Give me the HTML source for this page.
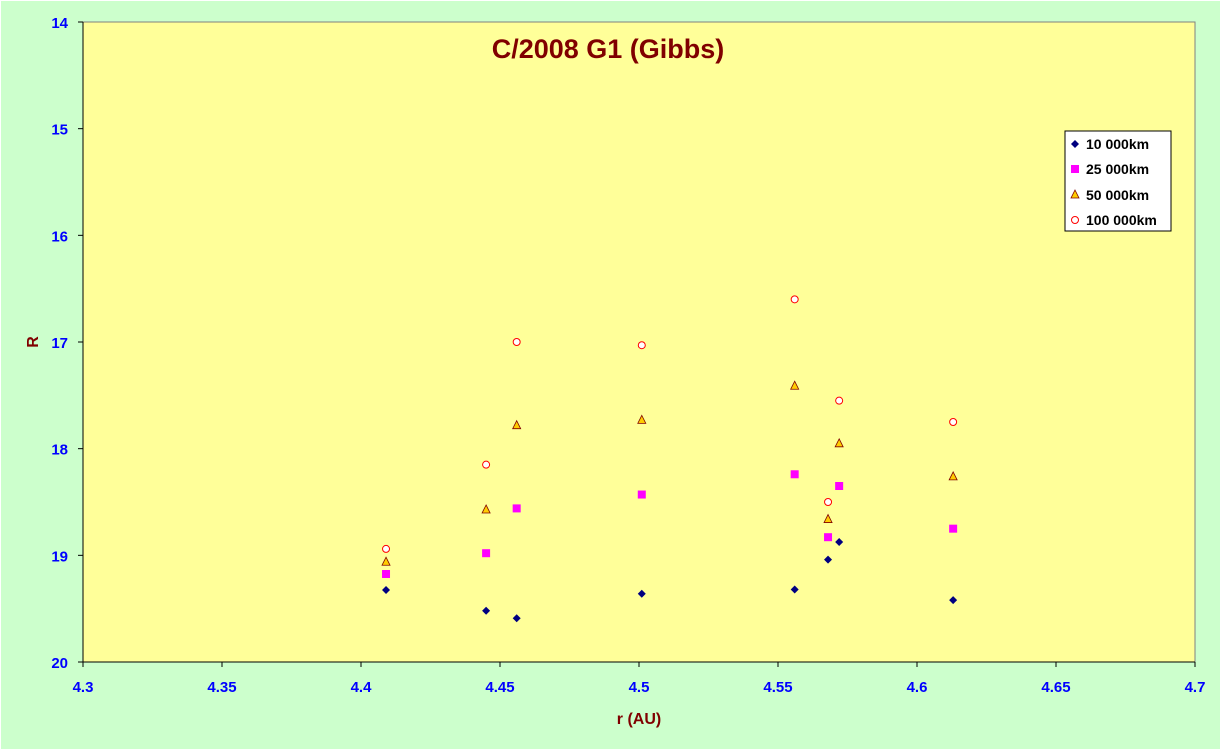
<!DOCTYPE html>
<html><head><meta charset="utf-8"><style>
body{margin:0;background:#ccffcc;}
svg{display:block;font-family:"Liberation Sans",sans-serif;}
</style></head><body>
<svg id="chart" width="1221" height="750">
<rect x="0.5" y="0.5" width="1220" height="749" fill="#ccffcc" stroke="#fff"/>
<rect x="83" y="22" width="1112" height="640" fill="#ffff99" stroke="#808080"/>
<g id="axes"></g>
<g id="marks"></g>
<text x="608" y="58" text-anchor="middle" font-size="27" font-weight="bold" fill="#800000">C/2008 G1 (Gibbs)</text>
<text x="639" y="724" text-anchor="middle" font-size="16" font-weight="bold" fill="#800000">r (AU)</text>
<text x="38" y="342" text-anchor="middle" font-size="16" font-weight="bold" fill="#800000" transform="rotate(-90 38 342)">R</text>
<g>
<rect x="1065" y="131" width="106" height="100" fill="#fff" stroke="#000"/>
<path d="M1075 140 l4 4 l-4 4 l-4 -4z" fill="#000080"/>
<text x="1086" y="149" font-size="14" font-weight="bold">10 000km</text>
<rect x="1071" y="165" width="8" height="8" fill="#ff00ff"/>
<text x="1086" y="174" font-size="14" font-weight="bold">25 000km</text>
<path d="M1075 190 l4 8 h-8z" fill="#ffcc00" stroke="#800000" stroke-width="0.8"/>
<text x="1086" y="200" font-size="14" font-weight="bold">50 000km</text>
<circle cx="1075" cy="220" r="3.5" fill="#fff" stroke="#ff0000"/>
<text x="1086" y="225" font-size="14" font-weight="bold">100 000km</text>
</g>
</svg>
<script>
const rValues=[4.409,4.445,4.456,4.501,4.556,4.568,4.572,4.613];
const s10=[19.325,19.52,19.59,19.36,19.32,19.04,18.875,19.42];
const s25=[19.175,18.98,18.56,18.43,18.24,18.83,18.35,18.75];
const s50=[19.06,18.57,17.78,17.73,17.41,18.66,17.95,18.26];
const s100=[18.94,18.15,17.0,17.03,16.6,18.5,17.55,17.75];
const xTicks=["4.3","4.35","4.4","4.45","4.5","4.55","4.6","4.65","4.7"];
const yTicks=["14","15","16","17","18","19","20"];
const NS="http://www.w3.org/2000/svg";
const X=v=>83+(v-4.3)/0.4*1112;
const Y=v=>22+(v-14)/6*640;
function mk(tag,attrs,parent){const e=document.createElementNS(NS,tag);for(const k in attrs)e.setAttribute(k,attrs[k]);parent.appendChild(e);return e;}
const axes=document.getElementById('axes');
const marks=document.getElementById('marks');
const xa=mk('line',{x1:83,y1:662,x2:1195,y2:662,stroke:'#000'},axes);


const ya=mk('line',{x1:83,y1:22,x2:83,y2:662,stroke:'#000'},axes);


xTicks.forEach(t=>{const x=X(parseFloat(t));
mk('line',{x1:x,y1:662,x2:x,y2:667,stroke:'#000'},axes);
const tx=mk('text',{x:x,y:692,'text-anchor':'middle','font-size':15,'font-weight':'bold',fill:'#0000ff'},axes);tx.textContent=t;

});
yTicks.forEach(t=>{const y=Y(parseFloat(t));
mk('line',{x1:78,y1:y,x2:83,y2:y,stroke:'#000'},axes);
const tx=mk('text',{x:68,y:y+6,'text-anchor':'end','font-size':15,'font-weight':'bold',fill:'#0000ff'},axes);tx.textContent=t;

});
rValues.forEach((r,i)=>{const x=X(r);
let y=Y(s10[i]);
const d=mk('path',{d:`M${x} ${y-4} l4 4 l-4 4 l-4 -4z`,fill:'#000080'},marks);


y=Y(s25[i]);
const s=mk('rect',{x:x-4,y:y-4,width:8,height:8,fill:'#ff00ff'},marks);


y=Y(s50[i]);
const t=mk('path',{d:`M${x} ${y-4.5} l4 8 h-8z`,fill:'#ffcc00',stroke:'#800000','stroke-width':0.8},marks);


y=Y(s100[i]);
const c=mk('circle',{cx:x,cy:y,r:3.5,fill:'#fff',stroke:'#ff0000'},marks);

});
</script>
</body></html>
